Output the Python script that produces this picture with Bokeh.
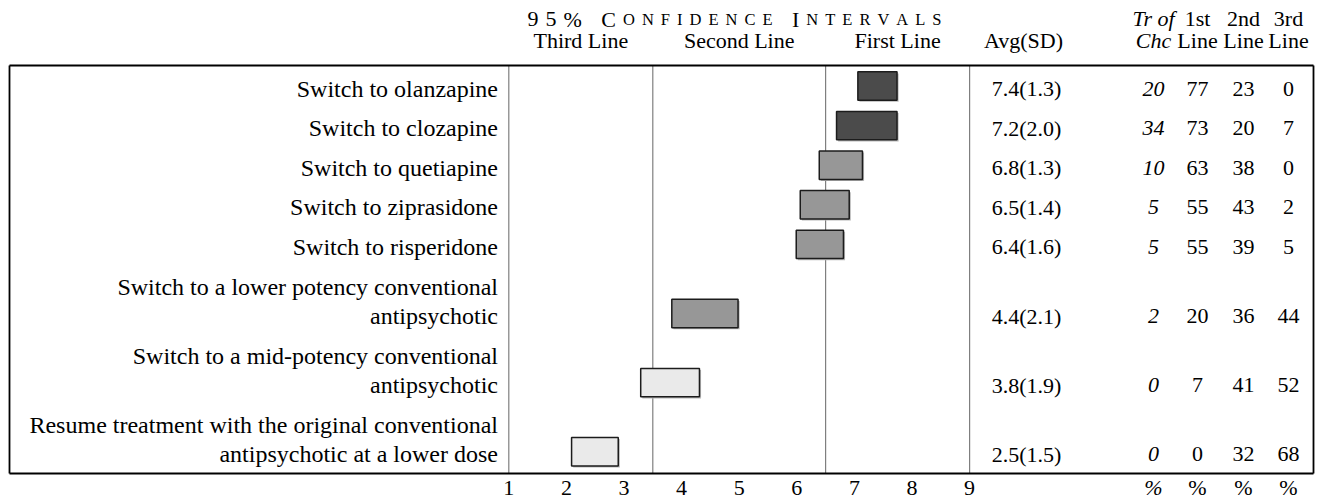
from bokeh.plotting import figure
from bokeh.models import Range1d, ColumnDataSource
from bokeh.core.properties import value
from bokeh.embed import file_html
from bokeh.resources import INLINE

# ---------------- data ----------------
label_lines = [
    ["Switch to olanzapine"],
    ["Switch to clozapine"],
    ["Switch to quetiapine"],
    ["Switch to ziprasidone"],
    ["Switch to risperidone"],
    ["Switch to a lower potency conventional", "antipsychotic"],
    ["Switch to a mid-potency conventional", "antipsychotic"],
    ["Resume treatment with the original conventional", "antipsychotic at a lower dose"],
]
ci_low = [7.06, 6.69, 6.39, 6.06, 5.99, 3.83, 3.29, 2.09]
ci_high = [7.74, 7.74, 7.14, 6.91, 6.81, 4.98, 4.31, 2.90]
shade = ["dark", "dark", "mid", "mid", "mid", "mid", "light", "light"]
avg = [7.4, 7.2, 6.8, 6.5, 6.4, 4.4, 3.8, 2.5]
sd = [1.3, 2.0, 1.3, 1.4, 1.6, 2.1, 1.9, 1.5]
tr_chc = [20, 34, 10, 5, 5, 2, 0, 0]
first_line = [77, 73, 63, 55, 55, 20, 7, 0]
second_line = [23, 20, 38, 43, 39, 36, 41, 32]
third_line = [0, 7, 0, 2, 5, 44, 52, 68]
x_ticks = [1, 2, 3, 4, 5, 6, 7, 8, 9]
zone_bounds = [1, 3.5, 6.5, 9]
zone_names = ["Third Line", "Second Line", "First Line"]
title = "95% CONFIDENCE INTERVALS"

# ---------------- layout ----------------
W, H = 1316, 501
PX_PER_UNIT = 57.6
X1_PX = 508.3                     # canvas px of x = 1
x0 = 1 - X1_PX / PX_PER_UNIT
x1 = x0 + W / PX_PER_UNIT


def dx(px):
    """canvas px -> data x"""
    return x0 + px / PX_PER_UNIT


SERIF = value("Liberation Serif")
LABEL_SIZE = "24px"
TAB_SIZE = "22px"

# row positions (y = canvas px, reversed range)
first_center = 88.0
row_adv = 39.6
line_adv = 29.5
row_last = []
row_lines_y = []
y = first_center
for i, lines in enumerate(label_lines):
    ys = [y + k * line_adv for k in range(len(lines))]
    row_lines_y.append(ys)
    row_last.append(ys[-1])
    y = ys[-1] + row_adv

box_top, box_bot = 65.0, 473.0
box_left_px, box_right_px = 9.0, 1313.0

p = figure(width=W, height=H, x_range=Range1d(x0, x1), y_range=Range1d(H, 0),
           output_backend="svg", toolbar_location=None, min_border=0,
           x_axis_type=None, y_axis_type=None)
p.grid.visible = False
p.outline_line_color = None
p.background_fill_color = "white"
p.border_fill_color = "white"

# zone separators
p.segment(x0=zone_bounds, x1=zone_bounds, y0=[box_top] * 4, y1=[box_bot] * 4,
          line_color="#7f7f7f", line_width=1.2)

# box
bl, br = dx(box_left_px), dx(box_right_px)
p.segment(x0=[bl, bl, bl, br], x1=[br, br, bl, br],
          y0=[box_top, box_bot, box_top, box_top], y1=[box_top, box_bot, box_bot, box_bot],
          line_color="black", line_width=1.8)

# bars
colors = {"dark": "#4b4b4b", "mid": "#979797", "light": "#eaeaea"}
bar_half = 14.2
bar_y = [r - 2.5 for r in row_last]
sh = 1.6 / PX_PER_UNIT
p.quad(left=[v + sh for v in ci_low], right=[v + sh for v in ci_high],
       top=[c - bar_half + 1.6 for c in bar_y], bottom=[c + bar_half + 1.6 for c in bar_y],
       fill_color="#b8b8b8", line_color=None)
src = ColumnDataSource(dict(left=ci_low, right=ci_high,
                            top=[c - bar_half for c in bar_y],
                            bottom=[c + bar_half for c in bar_y],
                            color=[colors[s] for s in shade]))
p.quad(left="left", right="right", top="top", bottom="bottom", source=src,
       fill_color="color", line_color="#1c1c1c", line_width=1.5)

# labels
lx, ly, lt = [], [], []
for lines, ys in zip(label_lines, row_lines_y):
    for t, yy in zip(lines, ys):
        lx.append(dx(497.5)); ly.append(yy); lt.append(t)
p.text(x=lx, y=ly, text=lt, text_font=SERIF, text_font_size=LABEL_SIZE,
       text_align="right", text_baseline="middle", text_color="black")

# table columns
col_avg = dx(1026)
col_tr = dx(1153)
col_c = [dx(1197), dx(1243), dx(1288)]

p.text(x=[col_avg] * 8, y=row_last, text=[f"{a:.1f}({s:.1f})" for a, s in zip(avg, sd)],
       text_font=SERIF, text_font_size=TAB_SIZE, text_align="center", text_baseline="middle")
p.text(x=[col_tr] * 8, y=row_last, text=[str(v) for v in tr_chc],
       text_font=SERIF, text_font_size=TAB_SIZE, text_font_style="italic",
       text_align="center", text_baseline="middle")
for cx, vals in zip(col_c, [first_line, second_line, third_line]):
    p.text(x=[cx] * 8, y=row_last, text=[str(v) for v in vals],
           text_font=SERIF, text_font_size=TAB_SIZE, text_align="center", text_baseline="middle")

# headers
h1, h2 = 17.5, 39.5
zone_centers = [(a + b) / 2 for a, b in zip(zone_bounds[:-1], zone_bounds[1:])]
p.text(x=zone_centers, y=[h2] * 3, text=zone_names, text_font=SERIF, text_font_size=TAB_SIZE,
       text_align="center", text_baseline="middle")
p.text(x=[col_avg - 3 / PX_PER_UNIT], y=[h2], text=["Avg(SD)"], text_font=SERIF, text_font_size=TAB_SIZE,
       text_align="center", text_baseline="middle")
p.text(x=[col_tr, col_tr], y=[h1, h2], text=["Tr of", "Chc"], text_font=SERIF,
       text_font_size=TAB_SIZE, text_font_style="italic", text_align="center", text_baseline="middle")
p.text(x=col_c, y=[h1] * 3, text=["1st", "2nd", "3rd"], text_font=SERIF, text_font_size=TAB_SIZE,
       text_align="center", text_baseline="middle")
p.text(x=col_c, y=[h2] * 3, text=["Line"] * 3, text_font=SERIF, text_font_size=TAB_SIZE,
       text_align="center", text_baseline="middle")

# small-caps, letter-spaced title
em = {"9": .5, "5": .5, "%": .833, " ": .25, "C": .667, "O": .722, "N": .722, "F": .556,
      "I": .333, "D": .722, "E": .611, "T": .611, "R": .667, "V": .722, "A": .722,
      "L": .611, "S": .556}
BIG, SMALL, TRACK = 22.0, 16.5, 7.0
sizes = []
prev = " "
for ch in title:
    big = (not ch.isalpha()) or prev == " "
    sizes.append(BIG if big else SMALL)
    prev = ch
widths = [em[c] * s for c, s in zip(title, sizes)]
total = sum(widths) + TRACK * (len(title) - 1)
start = 734.0 - total / 2
tx, tt, ts = [], [], []
cur = start
for ch, w, s in zip(title, widths, sizes):
    if ch != " ":
        tx.append(dx(cur)); tt.append(ch); ts.append(f"{s:.1f}px")
    cur += w + TRACK
tsrc = ColumnDataSource(dict(x=tx, y=[18.5] * len(tx), text=tt, size=ts))
p.text(x="x", y="y", text="text", text_font_size="size", source=tsrc, text_font=SERIF,
       text_align="left", text_baseline="alphabetic", text_color="black")

# bottom tick labels and % row
yb = 487.0
p.text(x=x_ticks, y=[yb] * len(x_ticks), text=[str(t) for t in x_ticks], text_font=SERIF,
       text_font_size=TAB_SIZE, text_align="center", text_baseline="middle")
p.text(x=[col_tr], y=[yb], text=["%"], text_font=SERIF, text_font_size=TAB_SIZE,
       text_font_style="italic", text_align="center", text_baseline="middle")
p.text(x=col_c, y=[yb] * 3, text=["%"] * 3, text_font=SERIF, text_font_size=TAB_SIZE,
       text_align="center", text_baseline="middle")

open("out.html", "w").write(file_html(p, INLINE))
